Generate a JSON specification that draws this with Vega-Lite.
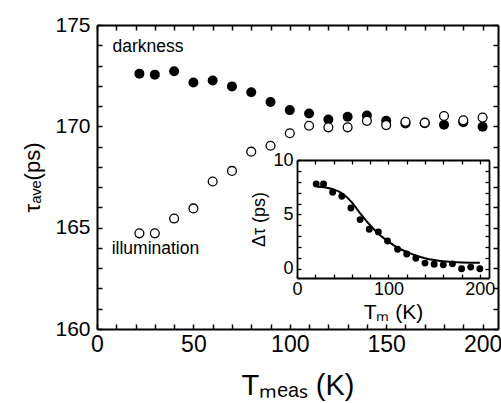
{
  "$schema": "https://vega.github.io/schema/vega-lite/v6.json",
  "width": 401,
  "height": 304,
  "autosize": {"type": "none"},
  "padding": {"left": 97, "top": 25, "right": 3, "bottom": 74},
  "background": "white",
  "config": {
    "view": {"stroke": null},
    "font": "Liberation Sans",
    "axis": {
      "grid": false,
      "domainColor": "black",
      "tickColor": "black",
      "labelColor": "black",
      "titleColor": "black",
      "labelFont": "Liberation Sans",
      "titleFont": "Liberation Sans",
      "titleFontWeight": "normal"
    }
  },
  "datasets": {
    "dark": [
      {"T": 22, "tau": 172.6}, {"T": 30, "tau": 172.55}, {"T": 40, "tau": 172.72}, {"T": 50, "tau": 172.16},
      {"T": 60, "tau": 172.26}, {"T": 70, "tau": 171.97}, {"T": 80, "tau": 171.68}, {"T": 90, "tau": 171.2},
      {"T": 100, "tau": 170.8}, {"T": 110, "tau": 170.63}, {"T": 120, "tau": 170.34}, {"T": 130, "tau": 170.47},
      {"T": 140, "tau": 170.53}, {"T": 150, "tau": 170.27}, {"T": 160, "tau": 170.14}, {"T": 170, "tau": 170.15},
      {"T": 180, "tau": 170.08}, {"T": 190, "tau": 170.2}, {"T": 200, "tau": 169.98}
    ],
    "illum": [
      {"T": 22, "tau": 164.72}, {"T": 30, "tau": 164.72}, {"T": 40, "tau": 165.45}, {"T": 50, "tau": 165.95},
      {"T": 60, "tau": 167.28}, {"T": 70, "tau": 167.8}, {"T": 80, "tau": 168.75}, {"T": 90, "tau": 169.04},
      {"T": 100, "tau": 169.66}, {"T": 110, "tau": 170.03}, {"T": 120, "tau": 169.95}, {"T": 130, "tau": 169.95},
      {"T": 140, "tau": 170.27}, {"T": 150, "tau": 170.06}, {"T": 160, "tau": 170.22}, {"T": 170, "tau": 170.18},
      {"T": 180, "tau": 170.51}, {"T": 190, "tau": 170.3}, {"T": 200, "tau": 170.43}
    ],
    "labels": [
      {"T": 8, "tau": 173.65, "text": "darkness"},
      {"T": 7.6, "tau": 163.7, "text": "illumination"}
    ],
    "inset": [
      {"T": 21, "dtau": 7.79}, {"T": 29, "dtau": 7.79}, {"T": 39, "dtau": 7.03}, {"T": 49, "dtau": 6.67},
      {"T": 59, "dtau": 5.58}, {"T": 69, "dtau": 4.52}, {"T": 79, "dtau": 3.64}, {"T": 89, "dtau": 3.39},
      {"T": 99, "dtau": 2.55}, {"T": 110, "dtau": 1.79}, {"T": 120, "dtau": 1.36}, {"T": 130, "dtau": 0.97},
      {"T": 140, "dtau": 0.52}, {"T": 150, "dtau": 0.42}, {"T": 160, "dtau": 0.36}, {"T": 170, "dtau": 0.45},
      {"T": 180, "dtau": 0.0}, {"T": 190, "dtau": 0.15}, {"T": 200, "dtau": 0.0}
    ],
    "fit": [
      {"T": 22, "dtau": 7.55}, {"T": 30, "dtau": 7.5}, {"T": 40, "dtau": 7.3}, {"T": 50, "dtau": 6.9},
      {"T": 60, "dtau": 6.1}, {"T": 70, "dtau": 5.0}, {"T": 80, "dtau": 4.0}, {"T": 90, "dtau": 3.15},
      {"T": 100, "dtau": 2.5}, {"T": 110, "dtau": 1.95}, {"T": 120, "dtau": 1.55}, {"T": 130, "dtau": 1.22},
      {"T": 140, "dtau": 0.97}, {"T": 150, "dtau": 0.8}, {"T": 160, "dtau": 0.68}, {"T": 170, "dtau": 0.62},
      {"T": 180, "dtau": 0.58}, {"T": 190, "dtau": 0.56}, {"T": 200, "dtau": 0.55}
    ]
  },
  "resolve": {
    "scale": {"x": "independent", "y": "independent"},
    "axis": {"x": "independent", "y": "independent"}
  },
  "layer": [
    {
      "data": {"name": "dark"},
      "mark": {"type": "point", "shape": "circle", "filled": true, "size": 100, "color": "black", "opacity": 1},
      "encoding": {
        "x": {
          "field": "T", "type": "quantitative",
          "scale": {"domain": [0, 208], "nice": false, "zero": false},
          "axis": {
            "orient": "bottom",
            "values": [0, 10, 20, 30, 40, 50, 60, 70, 80, 90, 100, 110, 120, 130, 140, 150, 160, 170, 180, 190, 200],
            "labelExpr": "datum.value % 50 === 0 ? datum.label : ''",
            "tickSize": -5, "tickWidth": 1.5, "domainWidth": 2,
            "labelFontSize": 23, "labelPadding": 9, "labelFlush": false,
            "title": "Tₘₑₐₛ (K)", "titleFontSize": 29, "titlePadding": 15
          }
        },
        "y": {
          "field": "tau", "type": "quantitative",
          "scale": {"domain": [160, 175], "nice": false, "zero": false},
          "axis": {
            "orient": "left",
            "values": [160, 161, 162, 163, 164, 165, 166, 167, 168, 169, 170, 171, 172, 173, 174, 175],
            "labelExpr": "datum.value % 5 === 0 ? datum.label : ''",
            "tickSize": -5, "tickWidth": 1.5, "domainWidth": 2,
            "labelFontSize": 21, "labelPadding": 12, "labelFlush": false,
            "title": "τₐᵥₑ(ps)", "titleFontSize": 22, "titlePadding": 10, "titleY": 152
          }
        }
      }
    },
    {
      "data": {"name": "illum"},
      "mark": {"type": "point", "shape": "circle", "filled": false, "fill": "white", "size": 78, "stroke": "black", "strokeWidth": 1.3, "opacity": 1},
      "encoding": {
        "x": {
          "field": "T", "type": "quantitative",
          "scale": {"domain": [0, 208], "nice": false, "zero": false},
          "axis": {
            "orient": "top",
            "values": [0, 10, 20, 30, 40, 50, 60, 70, 80, 90, 100, 110, 120, 130, 140, 150, 160, 170, 180, 190, 200],
            "labels": false, "title": null,
            "tickSize": -5, "tickWidth": 1.5, "domainWidth": 2
          }
        },
        "y": {
          "field": "tau", "type": "quantitative",
          "scale": {"domain": [160, 175], "nice": false, "zero": false},
          "axis": {
            "orient": "right",
            "values": [160, 161, 162, 163, 164, 165, 166, 167, 168, 169, 170, 171, 172, 173, 174, 175],
            "labels": false, "title": null,
            "tickSize": -5, "tickWidth": 1.5, "domainWidth": 2
          }
        }
      }
    },
    {
      "data": {"name": "labels"},
      "mark": {"type": "text", "align": "left", "baseline": "alphabetic", "fontSize": 17.5, "color": "black", "font": "Liberation Sans"},
      "encoding": {
        "x": {"field": "T", "type": "quantitative", "scale": {"domain": [0, 208], "nice": false, "zero": false}, "axis": null},
        "y": {"field": "tau", "type": "quantitative", "scale": {"domain": [160, 175], "nice": false, "zero": false}, "axis": null},
        "text": {"field": "text"}
      }
    },
    {
      "data": {"name": "fit"},
      "mark": {"type": "line", "color": "black", "strokeWidth": 2, "interpolate": "monotone"},
      "encoding": {
        "x": {
          "field": "T", "type": "quantitative",
          "scale": {"domain": [0, 210], "range": [200, 392], "nice": false, "zero": false},
          "axis": {
            "orient": "top", "offset": -135,
            "values": [0, 20, 40, 60, 80, 100, 120, 140, 160, 180, 200],
            "labels": false, "title": null,
            "tickSize": -4, "tickWidth": 1.3, "domainWidth": 1.8
          }
        },
        "y": {
          "field": "dtau", "type": "quantitative",
          "scale": {"domain": [-0.85, 10], "range": [253, 135], "nice": false, "zero": false},
          "axis": {
            "orient": "right", "offset": -9,
            "values": [0, 1, 2, 3, 4, 5, 6, 7, 8, 9, 10],
            "labels": false, "title": null,
            "tickSize": -4, "tickWidth": 1.3, "domainWidth": 1.8
          }
        }
      }
    },
    {
      "data": {"name": "inset"},
      "mark": {"type": "point", "shape": "circle", "filled": true, "size": 48, "color": "black", "opacity": 1},
      "encoding": {
        "x": {
          "field": "T", "type": "quantitative",
          "scale": {"domain": [0, 210], "range": [200, 392], "nice": false, "zero": false},
          "axis": {
            "orient": "bottom", "offset": -51,
            "values": [0, 20, 40, 60, 80, 100, 120, 140, 160, 180, 200],
            "labelExpr": "datum.value % 100 === 0 ? datum.label : ''",
            "tickSize": -4, "tickWidth": 1.3, "domainWidth": 1.8,
            "labelFontSize": 18, "labelPadding": 6, "labelFlush": false,
            "title": "Tₘ (K)", "titleFontSize": 21, "titlePadding": 3
          }
        },
        "y": {
          "field": "dtau", "type": "quantitative",
          "scale": {"domain": [-0.85, 10], "range": [253, 135], "nice": false, "zero": false},
          "axis": {
            "orient": "left", "offset": -200,
            "values": [0, 1, 2, 3, 4, 5, 6, 7, 8, 9, 10],
            "labelExpr": "datum.value % 5 === 0 ? datum.label : ''",
            "tickSize": -4, "tickWidth": 1.3, "domainWidth": 1.8,
            "labelFontSize": 18, "labelPadding": 8, "labelFlush": false,
            "title": "Δτ (ps)", "titleFontSize": 18, "titlePadding": 4
          }
        }
      }
    }
  ]
}
